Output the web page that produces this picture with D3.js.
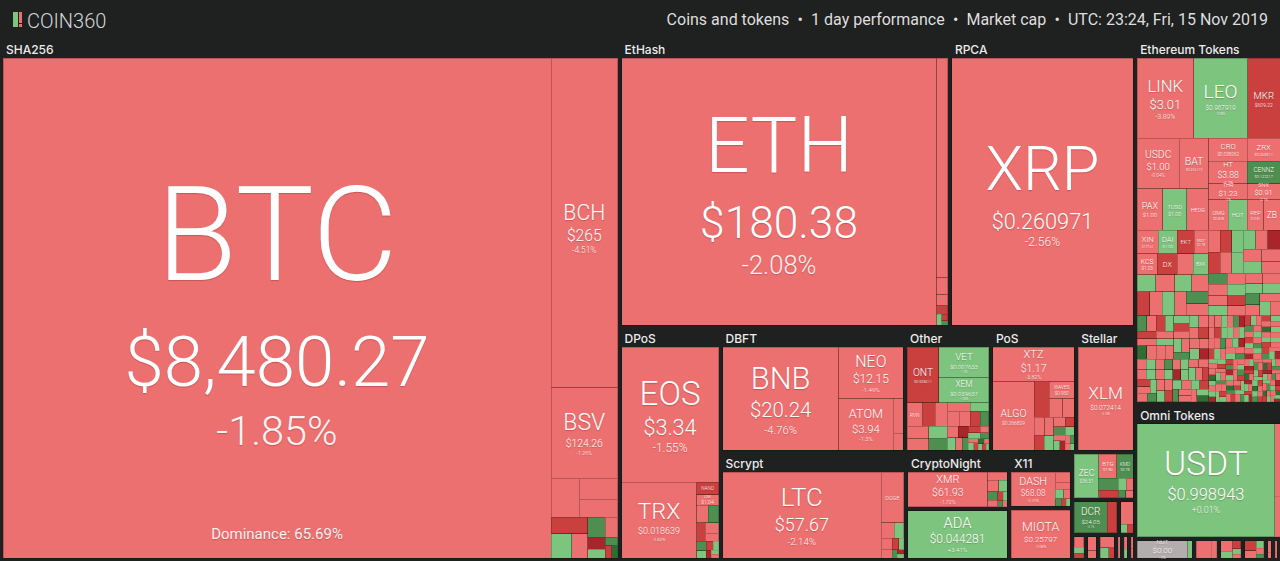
<!DOCTYPE html>
<html>
<head>
<meta charset="utf-8">
<title>COIN360 market map</title>
<script src="https://d3js.org/d3.v7.min.js"></script>
<style>
  html, body { margin: 0; padding: 0; background: #1f2020; overflow: hidden; }
  svg { display: block; }
  .tile-text text { font-family: Roboto, "Noto Sans", sans-serif; font-weight: 300; fill: #fff; text-anchor: middle; text-shadow: 0 1px 1px rgba(90,0,0,0.25); }
  .group-label { font-family: Inter, "Noto Sans", sans-serif; font-weight: 500; fill: #ececec; }
</style>
</head>
<body>
<svg width="1280" height="561"></svg>
<script>
// ---- groups (mining algorithm / token platform) ----
const groupNames = ["SHA256", "EtHash", "RPCA", "DPoS", "DBFT", "Other", "PoS", "Stellar", "Scrypt",
  "CryptoNight", "Ouroboros", "X11", "Tangle", "Equihash", "Blake256", "Lyra2Z",
  "Blake2b", "NeoScrypt", "Quark", "Groestl", "Keccak", "X13",
  "Ethereum Tokens", "Omni Tokens",
  "NEP-5 Tokens", "TRON Tokens", "Waves Tokens", "Binance Chain", "EOS Tokens", "Ontology Tokens", "NEM Mosaics"];
const groupLabelShown = [1, 1, 1, 1, 1, 1, 1, 1, 1,
  1, 0, 1, 0, 0, 0, 0,
  0, 0, 0, 0, 0, 0,
  1, 1,
  0, 0, 0, 0, 0, 0, 0];

// ---- named coins ----
const coinSymbol = ["BTC", "BCH", "BSV", "ETH", "ETC", "XRP", "EOS", "TRX", "NANO", "LSK", "BNB", "NEO", "ATOM",
  "ONT", "VET", "XEM", "RVN", "BTM", "XTZ", "ALGO", "QTUM", "WAVES", "XLM", "LTC", "DOGE", "XMR", "ADA", "DASH", "MIOTA",
  "ZEC", "BTG", "KMD", "DCR",
  "LINK", "LEO", "MKR", "USDC", "BAT", "PAX", "TUSD", "HEDG", "CRO", "HT", "ZRX", "CENNZ",
  "THR", "OMG", "HOT", "SNX", "REP", "ZB", "XIN", "DAI", "KCS", "DX", "EKT", "MOF", "BXK",
  "USDT", "NUT"];
const coinGroup = ["SHA256", "SHA256", "SHA256", "EtHash", "EtHash", "RPCA", "DPoS", "DPoS", "DPoS", "DPoS", "DBFT", "DBFT", "DBFT",
  "Other", "Other", "Other", "Other", "Other", "PoS", "PoS", "PoS", "PoS", "Stellar", "Scrypt", "Scrypt", "CryptoNight", "Ouroboros", "X11", "Tangle",
  "Equihash", "Equihash", "Equihash", "Blake256",
  "Ethereum Tokens", "Ethereum Tokens", "Ethereum Tokens", "Ethereum Tokens", "Ethereum Tokens", "Ethereum Tokens", "Ethereum Tokens",
  "Ethereum Tokens", "Ethereum Tokens", "Ethereum Tokens", "Ethereum Tokens", "Ethereum Tokens",
  "Ethereum Tokens", "Ethereum Tokens", "Ethereum Tokens", "Ethereum Tokens", "Ethereum Tokens", "Ethereum Tokens", "Ethereum Tokens",
  "Ethereum Tokens", "Ethereum Tokens", "Ethereum Tokens", "Ethereum Tokens", "Ethereum Tokens", "Ethereum Tokens",
  "Omni Tokens", "NEP-5 Tokens"];
// relative market-cap weight of each tile
const coinWeight = [2735, 219, 60, 876, 26, 509, 143, 62, 3.0, 2.5, 141, 39, 33,
  21.5, 18.4, 15.3, 4.4, 3.6, 34, 34, 6.5, 5, 70, 166, 14, 44.5, 50.5, 25, 31,
  12, 4.8, 4.3, 12,
  47, 45, 27, 22, 15.6, 11.1, 10.4, 9.7, 9.3, 9.0, 7.9, 7.6,
  6.3, 6.1, 6.0, 5.3, 5.3, 5.2, 5.1, 4.7, 4.4, 4.4, 4.1, 3.5, 3.3,
  181, 11];
const coinPrice = ["$8,480.27", "$265", "$124.26", "$180.38", "$4.71", "$0.260971", "$3.34", "$0.018639", "$0.935410", "$1.04",
  "$20.24", "$12.15", "$3.94",
  "$0.958211", "$0.007633", "$0.039637", "$0.028410", "$0.086912", "$1.17", "$0.266829", "$2.17", "$0.950", "$0.072414",
  "$57.67", "$0.002663", "$61.93", "$0.044281", "$68.08", "$0.25797",
  "$36.31", "$7.86", "$0.78", "$24.05",
  "$3.01", "$0.967919", "$609.22", "$1.00", "$0.246113", "$1.00", "$1.00", "$0.890112", "$0.038262", "$3.88", "$0.269911", "$0.123217",
  "$1.23", "$0.848", "$0.000731", "$0.91", "$10.81", "$0.312100", "$177.61", "$1.00", "$1.03", "$0.000384", "$0.003112", "$1.78", "$0.026412",
  "$0.998943", "$0.00"];
const coinChange = [-1.85, -4.51, -1.26, -2.08, -1.62, -2.56, -1.55, -3.82, -7.12, -2.41, -4.76, -1.49, -1.30,
  -7.24, 1.90, 1.08, -3.10, -6.20, -3.82, -4.05, -6.30, -2.20, -2.18, -2.14, -1.50, -1.72, 3.41, -0.43, -3.08,
  2.40, -2.00, 5.60, 6.10,
  -3.89, 0.88, -7.12, -0.04, -2.60, -0.10, 0.20, -1.20, -1.90, -2.30, -3.20, 7.40,
  -3.00, -2.50, 1.50, -2.70, -1.90, -1.80, -2.80, 0.60, -1.60, -5.80, -6.50, -1.10, 1.30,
  0.01, 0];

// ---- small unnamed coins in each group ----
const tailGroup = ["SHA256", "EtHash", "DPoS", "DBFT", "Other", "PoS", "Scrypt", "CryptoNight", "X11", "Equihash",
  "Blake256", "Lyra2Z", "Blake2b", "NeoScrypt", "Quark", "Groestl", "Keccak", "X13", "Ethereum Tokens", "Omni Tokens",
  "NEP-5 Tokens", "TRON Tokens", "Waves Tokens", "Binance Chain", "EOS Tokens", "Ontology Tokens", "NEM Mosaics"];
const tailWeight = [
  [11, 8, 7, 6, 5, 4, 3.5, 2.5, 2, 1.5, 1, 0.8, 0.7],
  [2.0, 1.3, 1.0, 0.6, 0.4, 0.3],
  [2.2, 2.0, 1.8, 1.5, 1.2, 1.0, 0.8, 0.7, 0.5, 0.4, 0.3, 0.3],
  [4, 2],
  [3.5, 3.2, 3.0, 2.8, 2.6, 2.3, 2.2, 2.0, 1.9, 1.8, 1.6, 1.5, 1.4, 1.2, 1.0, 0.9, 0.9, 0.8, 0.7, 0.6, 0.5, 0.5, 0.4, 0.4, 0.3, 0.3, 0.3, 0.2],
  [3.0, 2.6, 2.4, 2.0, 1.8, 1.6, 1.4, 1.2, 1.0, 0.9, 0.8, 0.7, 0.6, 0.5, 0.4, 0.4, 0.3],
  [2.5, 1.8, 1.5, 1.2, 0.9, 0.7, 0.5, 0.4, 0.3],
  [2.5, 2.0, 1.6, 1.3, 1.0, 0.8, 0.6, 0.5, 0.4],
  [2.5, 1.8, 1.3, 1.0, 0.8, 0.6, 0.5],
  [2.6, 1.6, 1.1, 0.9, 0.6, 0.6],
  [3.5],
  [4.0, 0.8, 0.7],
  [1.6, 0.9, 0.7],
  [2.0, 1.0],
  [2.2, 1.3, 0.8],
  [1.4],
  [1.0, 0.7],
  [0.8, 0.6],
  [3.4, 3.3, 3.2, 3.1, 3.0, 2.9, 2.8, 2.8, 2.7, 2.6, 2.6, 2.5, 2.5, 2.4, 2.4, 2.3, 2.3, 2.2, 2.2, 2.1,
   2.0, 2.0, 1.9, 1.9, 1.8, 1.8, 1.7, 1.7, 1.6, 1.6,
   1.5, 1.5, 1.5, 1.4, 1.4, 1.4, 1.4, 1.3, 1.3, 1.3, 1.3, 1.2, 1.2, 1.2, 1.2, 1.2, 1.1, 1.1, 1.1, 1.1,
   1.1, 1.0, 1.0, 1.0, 1.0, 1.0, 1.0, 1.0, 0.9, 0.9, 0.9, 0.9, 0.9, 0.9, 0.9, 0.9, 0.9, 0.9, 0.9, 0.9,
   0.95, 0.93, 0.92, 0.9, 0.9, 0.88, 0.87, 0.86, 0.85, 0.84, 0.83, 0.82, 0.81, 0.8, 0.8,
   0.79, 0.78, 0.77, 0.76, 0.75, 0.74, 0.73, 0.72, 0.71, 0.7, 0.7, 0.69, 0.68, 0.67, 0.66,
   0.65, 0.65, 0.64, 0.63, 0.62, 0.62, 0.61, 0.6, 0.6, 0.59, 0.58, 0.58, 0.57, 0.56, 0.56,
   0.55, 0.55, 0.54, 0.54, 0.53, 0.53, 0.52, 0.52, 0.51, 0.51, 0.5, 0.5, 0.5, 0.5, 0.5,
   0.49, 0.49, 0.48, 0.48, 0.48, 0.47, 0.47, 0.47, 0.46, 0.46,
   0.46, 0.45, 0.45, 0.45, 0.45, 0.44, 0.44, 0.44, 0.44, 0.43,
   0.43, 0.43, 0.43, 0.42, 0.42, 0.42, 0.42, 0.42, 0.41, 0.41,
   0.41, 0.41, 0.41, 0.4, 0.4, 0.4, 0.4, 0.4, 0.4, 0.39,
   0.39, 0.39, 0.39, 0.38, 0.38, 0.38, 0.38, 0.37, 0.37, 0.37,
   0.37, 0.36, 0.36, 0.36, 0.36, 0.35, 0.35, 0.35, 0.35, 0.35,
   0.34, 0.34, 0.34, 0.34, 0.33, 0.33, 0.33, 0.33, 0.33, 0.32,
   0.32, 0.32, 0.32, 0.32, 0.31, 0.31, 0.31, 0.31, 0.31, 0.3,
   0.3, 0.3, 0.3, 0.3, 0.3, 0.29, 0.29, 0.29, 0.29, 0.28,
   0.28, 0.28, 0.28, 0.27, 0.27, 0.27, 0.26, 0.26, 0.26, 0.25,
   0.25, 0.25, 0.24, 0.24, 0.23, 0.23, 0.22, 0.22, 0.21, 0.2,
   3.3, 3.1, 2.9, 2.7, 2.5, 2.3, 2.1, 1.9, 2.2, 1.8, 1.5, 1.2, 1.0, 0.9],
  [4.5, 2.5],
  [1.0],
  [3.6, 1.4],
  [1.8, 1.1, 0.9, 0.6, 0.4],
  [1.7, 1.2, 0.8, 0.6, 0.4],
  [1.0, 0.5],
  [0.8, 0.4],
  [0.6]
];
const tailChange = [
  [-1.2, -2.1, -0.9, -6.3, 4.2, -3.1, 7.5, -1.8, -11.2, 2.3, 6.8, -5.6, 12.1],
  [-2.4, -3.0, -7.3, 3.9, -9.1, 5.2],
  [-1.8, 6.2, -6.8, -0.9, -2.7, 7.9, 2.1, -5.2, 3.4, -12.0, 1.1, -3.3],
  [-2.1, -1.0],
  [-2.2, -1.6, -3.4, 2.8, 6.7, -1.1, -2.9, -0.7, 3.3, -6.1, 8.4, -2.5, -11.3, 1.9, -4.2, 5.5, -7.7, 2.4, -1.3, 9.6, -3.8, 0.8, -5.9, 12.2, -2.0, 4.6, -8.3, 1.5],
  [-1.4, -2.8, -0.6, -3.7, -6.4, 2.6, -1.9, 7.3, -8.8, 1.4, -2.2, 4.8, -12.5, -0.9, 6.1, -4.4, 2.9],
  [-1.9, 3.2, -0.8, -2.6, -6.9, 1.7, 8.1, -11.4, 2.2],
  [-1.2, -2.3, 3.1, 6.4, -0.7, -7.2, 2.0, 9.1, -3.5],
  [-1.4, -0.6, 2.9, -2.7, 6.3, -6.1, 1.2],
  [6.8, -7.4, 2.1, -1.5, 5.2, -3.9],
  [-7.0],
  [-1.6, 2.4, -6.2],
  [-1.1, 3.6, -5.4],
  [-2.2, -0.8],
  [-1.5, 2.8, -6.7],
  [-2.4],
  [-3.1, 4.4],
  [-1.9, -0.5],
  [-1.2, 2.3, -6.1, -2.8, 0.9, -0.4, 7.2, -3.3, -1.7, 1.5, -8.4, -2.2, 3.6, -0.9, -12.1, -1.4, 0.6, -3.9, 6.3, -2.5,
   -1.1, 1.8, -5.6, -0.7, 2.9, -2.6, 9.4, -1.9, -4.3, 0.4, -2.0, 5.1, -1.5, -7.3, 1.2, -0.6, -3.1, 11.6, -1.8, 2.2,
   -4.7, -0.8, 0.7, -6.6, -2.4, 3.3, -1.3, -9.2, 1.9, -0.5, 6.8, -3.6, -1.0, 2.6, -14.3, -2.7, 0.3, -1.6, 4.2, -5.9,
   -2.1, 1.1, -0.3, 8.7, -3.4, -1.2, 2.4, -7.8, -0.9, 1.6, -2.9, 5.7, -1.4, -11.2, 0.8, -3.8, 3.9, -0.6, -6.2, 1.3,
   -1.9, 7.6, -2.3, -0.7, 2.1, -9.7, -3.2, 0.5, 12.4, -1.5, -4.4, 1.7, -0.8, -5.4, 3.1, -2.6, 6.1, -13.5, 0.9, -1.1,
   2.8, -3.7, -0.4, 9.8, -7.1, 1.4, -2.2, -0.6, 4.6, -15.2, -1.3, 0.2, -3.0, 5.3, -8.9, 1.0, -1.7, 7.9, -2.4, -0.5,
   3.4, -6.4, -1.0, 0.6, -2.8, 10.3, -4.1, 2.0, -0.9, -9.5, 1.5, -1.6, 6.6, -3.3, -12.7, 0.7, -0.3, 4.8, -7.6, 2.5,
   -2.0, -5.0, 8.2, -1.2, 0.4, -10.8, 3.7, -2.7, 1.2, -6.9, -0.7, 11.1, -3.5, 2.3, -1.4, -8.1, 5.9, -0.2, -4.6, 1.8,
   -13.9, 0.6, -2.1, 7.3, -5.7, 1.1, -0.8, 9.1, -3.9, -1.5, 2.7, -11.7, 0.3, -6.0, 4.1, -2.3, 13.2, -1.0, -7.0, 0.9,
   5.5, -3.1, -9.9, 1.6, -0.6, 8.8, -4.8, 2.2, -14.6, -1.8, 6.2, -0.4, -5.3, 10.7, -2.9, 1.4, -8.6, 3.0, -1.1, 12.9,
   -6.7, 0.5, -3.6, 7.7, -10.1, 2.6, -0.9, -4.2, 9.6, -1.3, -12.3, 4.4, -2.5, 0.8, -7.4, 11.9, -0.7, -5.5, 3.5, -16.0,
   1.9, -2.2, 8.5, -9.0, 0.2, -3.8, 6.9, -1.6, -11.0, 2.9, -5.1, 14.1, -0.5, -7.9, 1.3, -2.8, 10.0, -4.5, 0.7, -13.1,
   -2.4, 4.3, -1.1, -6.8, 0.6, -3.0, 2.0, -0.8, -1.3, 3.0, -7.5, -0.6, 1.7, -2.9],
  [-2.5, -1.1],
  [1.8],
  [-1.7, -0.9],
  [-2.2, 3.1, -6.4, 1.4, -0.8],
  [-5.8, -1.3, 2.6, -2.0, 7.7],
  [-1.4, -2.6],
  [-0.7, -3.3],
  [-1.8]
];

const btcDominance = "65.69%";
const headerParts = ["Coins and tokens", "1 day performance", "Market cap", "UTC: 23:24, Fri, 15 Nov 2019"];

const width = 1280;
const margin = {top: 40, left: 3, right: 0, bottom: 3};
const mapW = width - margin.left - margin.right;
const mapH = 561 - margin.top - margin.bottom;

const svg = d3.select("svg");

// header
const logo = svg.append("g");
logo.append("rect").attr("x", 13).attr("y", 12).attr("width", 5).attr("height", 15).attr("fill", "#7dc47f");
logo.append("rect").attr("x", 19).attr("y", 12).attr("width", 3).attr("height", 11).attr("fill", "#ed7070");
logo.append("rect").attr("x", 19).attr("y", 24).attr("width", 3).attr("height", 3).attr("fill", "#ed7070");
logo.append("text").attr("x", 27).attr("y", 27.5).text("COIN360")
  .style("font-family", "Roboto, sans-serif").style("font-weight", 300).style("font-size", "20px").attr("fill", "#d6d6d6");
svg.append("text").attr("x", 1268).attr("y", 25).attr("text-anchor", "end")
  .text(headerParts.join("\u2002\u2022\u2002"))
  .style("font-family", "Roboto, sans-serif").style("font-size", "16px").attr("fill", "#dedede");

// build the hierarchy: fixed block arrangement, coins inside each group
function leavesOf(g) {
  const out = [];
  coinSymbol.forEach((s, i) => {
    if (coinGroup[i] === g) out.push({symbol: s, weight: coinWeight[i], price: coinPrice[i], change: coinChange[i]});
  });
  const t = tailGroup.indexOf(g);
  if (t >= 0) tailWeight[t].forEach((w, j) => out.push({symbol: "", weight: w, price: "", change: tailChange[t][j]}));
  return out;
}
function grp(name) {
  return {name: name, group: true, showLabel: groupLabelShown[groupNames.indexOf(name)] === 1, children: leavesOf(name)};
}
function split(dir, ...children) { return {dir: dir, children: children}; }

const tree = split("h",
  grp("SHA256"),
  split("v",
    split("h", grp("EtHash"), grp("RPCA")),
    split("h", grp("DPoS"),
      split("v",
        split("h", grp("DBFT"), grp("Other"), grp("PoS"), grp("Stellar")),
        split("h", grp("Scrypt"),
          split("v", grp("CryptoNight"), grp("Ouroboros")),
          split("v", grp("X11"), grp("Tangle")),
          split("v", grp("Equihash"),
            split("h", grp("Blake256"), grp("Lyra2Z")),
            split("h", grp("Blake2b"), grp("NeoScrypt"), grp("Quark"), grp("Groestl"), grp("Keccak"), grp("X13"))))))),
  split("v", grp("Ethereum Tokens"), grp("Omni Tokens"),
    split("h", grp("NEP-5 Tokens"), grp("TRON Tokens"), grp("Waves Tokens"), grp("Binance Chain"),
      grp("EOS Tokens"), grp("Ontology Tokens"), grp("NEM Mosaics"))));

const root = d3.hierarchy(tree)
  .sum(d => d.weight || 0)
  .sort((a, b) => a.parent.data.dir ? 0 : b.value - a.value);

function tile(node, x0, y0, x1, y1) {
  if (node.data.dir === "h") d3.treemapDice(node, x0, y0, x1, y1);
  else if (node.data.dir === "v") d3.treemapSlice(node, x0, y0, x1, y1);
  else d3.treemapBinary(node, x0, y0, x1, y1);
}

d3.treemap()
  .size([mapW, mapH])
  .tile(tile)
  .paddingInner(n => n.data.dir ? 4 : 0)
  .paddingTop(n => n.data.showLabel ? 18 : 0)(root);

const color = c => c === 0 ? "#b3aeae"
  : c > 0 ? (c < 5 ? "#7dc47f" : c < 10 ? "#4e8f51" : "#2f6d35")
  : (c > -5 ? "#ed7070" : c > -10 ? "#c9403f" : "#a8262b");

const chart = svg.append("g").attr("transform", `translate(${margin.left},${margin.top})`);
const leaves = root.leaves();

chart.selectAll("rect.tile")
  .data(leaves)
  .join("rect")
  .attr("class", "tile")
  .attr("x", d => d.x0)
  .attr("y", d => d.y0)
  .attr("width", d => Math.max(0, d.x1 - d.x0))
  .attr("height", d => Math.max(0, d.y1 - d.y0))
  .attr("fill", d => color(d.data.change))
  .attr("stroke", "rgba(0,0,0,0.22)")
  .attr("stroke-width", d => Math.min(d.x1 - d.x0, d.y1 - d.y0) < 6 ? 0.5 : 1)
  .attr("shape-rendering", "crispEdges");

function fit(sel, size, maxW) {
  sel.attr("font-size", size);
  const len = sel.node().getComputedTextLength();
  if (len > maxW && len > 0) {
    size = size * maxW / len;
    sel.attr("font-size", size);
  }
  return size;
}

// group labels
chart.selectAll("text.group-label")
  .data(root.descendants().filter(d => d.data.group && d.data.showLabel))
  .join("text")
  .attr("class", "group-label")
  .attr("x", d => d.x0 + 3)
  .attr("y", d => d.y0 + 14)
  .text(d => d.data.name)
  .each(function(d) { fit(d3.select(this), 12, d.x1 - d.x0 - 6); });

// coin labels
const fmtChange = d3.format("+.2~f");
leaves.filter(d => d.data.symbol).forEach(d => {
  const w = d.x1 - d.x0, h = d.y1 - d.y0;
  const g = chart.append("g").attr("class", "tile-text");
  const cx = (d.x0 + d.x1) / 2;
  const name = g.append("text").attr("x", cx).text(d.data.symbol);
  const N = fit(name, Math.min(1.45 * Math.pow(w * h, 0.36), 0.29 * h + 1), 0.63 * w);
  if (N < 4) { g.remove(); return; }
  const price = g.append("text").attr("x", cx).text(d.data.price);
  const P = fit(price, 0.5 * N + 5, 0.56 * w);
  const change = g.append("text").attr("x", cx)
    .text(fmtChange(d.data.change).replace("\u2212", "-") + "%").attr("opacity", 0.92);
  const C = fit(change, 0.6 * P - 1, 0.55 * w);
  const showP = P >= 3, showC = showP && C >= 2.5;
  if (!showP) price.remove();
  if (!showC) change.remove();
  const blockH = 0.72 * N + (showP ? 0.3 * N + 0.95 * P : 0) + (showC ? 0.3 * P + 0.9 * C : 0)
    + 0.15 * (showC ? C : showP ? P : N);
  const top = (d.y0 + d.y1) / 2 + 0.02 * h - blockH / 2;
  const nameBase = top + 0.72 * N;
  const priceBase = nameBase + 0.3 * N + 0.95 * P;
  name.attr("y", nameBase);
  price.attr("y", priceBase);
  change.attr("y", priceBase + 0.3 * P + 0.9 * C);
  if (d.data.symbol === "BTC") {
    g.append("text").attr("x", cx).attr("y", d.y1 - 19).attr("font-size", 15)
      .style("font-weight", 400).attr("opacity", 0.9)
      .text("Dominance: " + btcDominance);
  }
});
</script>
</body>
</html>
